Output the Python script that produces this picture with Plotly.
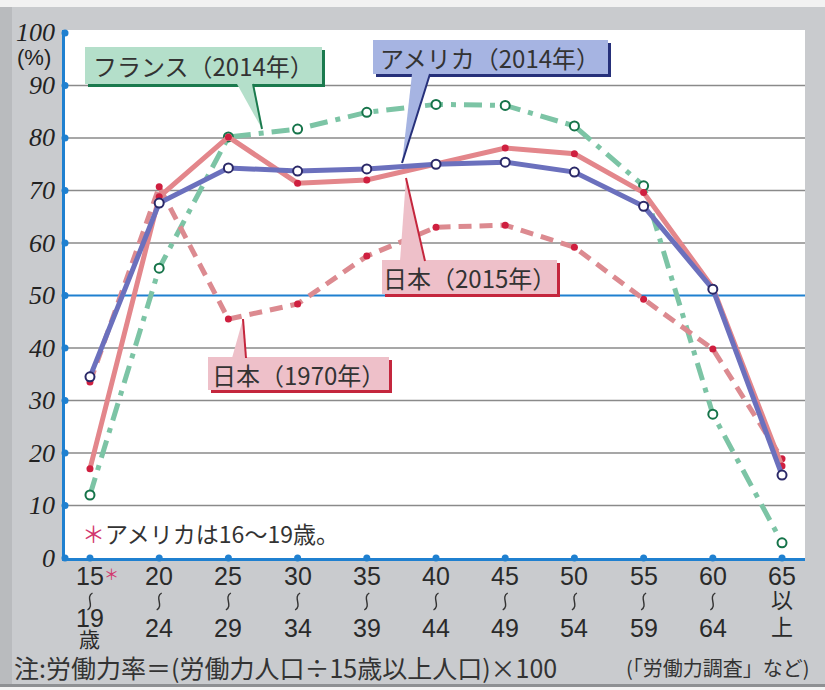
import plotly.graph_objects as go

# ---------------- data ----------------
categories = ["15〜19歳", "20〜24", "25〜29", "30〜34", "35〜39", "40〜44",
              "45〜49", "50〜54", "55〜59", "60〜64", "65以上"]
label_top = ["15", "20", "25", "30", "35", "40", "45", "50", "55", "60", "65"]
label_mid = ["〜", "〜", "〜", "〜", "〜", "〜", "〜", "〜", "〜", "〜", "以"]
label_bot = ["19", "24", "29", "34", "39", "44", "49", "54", "59", "64", "上"]
label_extra = ["歳", "", "", "", "", "", "", "", "", "", ""]

japan_2015 = [17.0, 68.8, 80.2, 71.4, 72.0, 75.0, 78.1, 77.0, 69.6, 51.5, 17.5]
japan_1970 = [33.5, 70.7, 45.5, 48.4, 57.5, 63.0, 63.4, 59.2, 49.3, 39.8, 18.9]
america_2014 = [34.5, 67.6, 74.3, 73.7, 74.1, 75.0, 75.4, 73.5, 67.0, 51.2, 15.8]
france_2014 = [12.0, 55.2, 80.2, 81.7, 84.9, 86.4, 86.2, 82.3, 70.9, 27.4, 2.9]

y_ticks = [0, 10, 20, 30, 40, 50, 60, 70, 80, 90, 100]
y_ticktext = ["0", "10", "20", "30", "40", "50", "60", "70", "80", "90", "100"]
grid_vals = [10, 20, 30, 40, 60, 70, 80, 90]
blue_line_val = 50

# ---------------- geometry helpers (pixel -> paper) ----------------
W, H = 825, 690
L, R, T, B = 65, 20, 30, 132
PW, PH = W - L - R, H - T - B


def px(x):
    return (x - L) / PW


def py(y):
    return (H - B - y) / PH


x_pos = list(range(len(categories)))
X_RANGE = [-0.361, 10.332]
Y_RANGE = [0, 100.57]
X_UNIT = PW / (X_RANGE[1] - X_RANGE[0])


def cat_px(i):
    return L + (i - X_RANGE[0]) * X_UNIT


BLUE = "#1f80d0"
CJK = "Noto Sans CJK JP"

fig = go.Figure()

fig.add_trace(go.Scatter(
    x=x_pos, y=france_2014, mode="lines+markers", name="フランス（2014年）",
    text=categories,
    line=dict(color="#7cc4a5", width=5, dash="18px,8px,5px,8px"),
    marker=dict(size=9, color="white", line=dict(color="#16744a", width=2)),
))
fig.add_trace(go.Scatter(
    x=x_pos, y=japan_1970, mode="lines+markers", name="日本（1970年）",
    text=categories,
    line=dict(color="#dc8a90", width=5, dash="13px,8px"),
    marker=dict(size=7, color="#cf1f3f"),
))
fig.add_trace(go.Scatter(
    x=x_pos, y=japan_2015, mode="lines+markers", name="日本（2015年）",
    text=categories,
    line=dict(color="#e3868b", width=5),
    marker=dict(size=7, color="#cf1f3f"),
))
fig.add_trace(go.Scatter(
    x=x_pos, y=america_2014, mode="lines+markers", name="アメリカ（2014年）",
    text=categories,
    line=dict(color="#6b70bd", width=5),
    marker=dict(size=9, color="white", line=dict(color="#2b2968", width=2)),
))

# axis dots
fig.add_trace(go.Scatter(
    x=x_pos, y=[0] * len(x_pos), mode="markers", cliponaxis=False,
    marker=dict(size=7, color=BLUE), hoverinfo="skip", showlegend=False))
fig.add_trace(go.Scatter(
    x=[X_RANGE[0]] * len(y_ticks), y=y_ticks, mode="markers", cliponaxis=False,
    marker=dict(size=7, color=BLUE), hoverinfo="skip", showlegend=False))

shapes = []
# frame decorations
shapes.append(dict(type="rect", xref="paper", yref="paper", x0=px(0), x1=px(W),
                   y0=py(0), y1=py(7), fillcolor="#f2f2f2", line_width=0, layer="below"))
shapes.append(dict(type="rect", xref="paper", yref="paper", x0=px(0), x1=px(12),
                   y0=py(7), y1=py(686), fillcolor="#b9bbbe", line_width=0, layer="below"))
shapes.append(dict(type="rect", xref="paper", yref="paper", x0=px(0), x1=px(W),
                   y0=py(684), y1=py(687), fillcolor="#8e9093", line_width=0, layer="below"))
shapes.append(dict(type="rect", xref="paper", yref="paper", x0=px(0), x1=px(W),
                   y0=py(687), y1=py(H), fillcolor="#f4f4f4", line_width=0, layer="below"))

# gridlines
for v in grid_vals:
    shapes.append(dict(type="line", xref="paper", yref="y", x0=0, x1=1, y0=v, y1=v,
                       line=dict(color="#8a8a8a", width=1.6), layer="below"))
shapes.append(dict(type="line", xref="paper", yref="y", x0=0, x1=1,
                   y0=blue_line_val, y1=blue_line_val,
                   line=dict(color=BLUE, width=2), layer="below"))


def callout(box, pointer, light, dark):
    x0, y0, x1, y1 = box
    out = []
    out.append(dict(type="rect", xref="paper", yref="paper",
                    x0=px(x0 + 3), x1=px(x1), y0=py(y0 + 3), y1=py(y1),
                    fillcolor=dark, line_width=0, layer="above"))
    out.append(dict(type="rect", xref="paper", yref="paper",
                    x0=px(x0), x1=px(x1 - 3), y0=py(y0), y1=py(y1 - 3),
                    fillcolor=light, line_width=0, layer="above"))
    (ax, ay), (bx, by), (tx, ty) = pointer
    path = "M {} {} L {} {} L {} {} Z".format(px(ax), py(ay), px(bx), py(by), px(tx), py(ty))
    out.append(dict(type="path", xref="paper", yref="paper", path=path,
                    fillcolor=light, line_width=0, layer="above"))
    out.append(dict(type="line", xref="paper", yref="paper",
                    x0=px(bx), y0=py(by), x1=px(tx), y1=py(ty),
                    line=dict(color=dark, width=2), layer="above"))
    return out


shapes += callout((85, 47, 325, 87), ((237, 84), (253, 84), (262, 129)), "#b4dfca", "#1b7a4e")
shapes += callout((373, 40, 611, 77), ((412, 74), (430, 74), (402, 163)), "#a6b4e2", "#26307a")
shapes += callout((382, 260, 560, 297), ((400, 261), (425, 261), (406, 178)), "#eec0c9", "#c4263d")
shapes += callout((208, 357, 392, 393), ((232, 358), (246, 358), (243, 319)), "#eec0c9", "#c4263d")

annotations = []


def txt(text, x, y, size, family=CJK, xanchor="center", color="#2a2a2a", xref="paper",
        yref="paper", style="normal", **kw):
    annotations.append(dict(text=text, x=x, y=y, xref=xref, yref=yref,
                            xanchor=xanchor, yanchor="middle", showarrow=False,
                            font=dict(size=size, family=family, color=color, style=style),
                            **kw))


txt("フランス（2014年）", px(203), py(65), 24, color="#333333")
txt("アメリカ（2014年）", px(490), py(57), 24, color="#333333")
txt("日本（2015年）", px(469), py(277), 24, color="#333333")
txt("日本（1970年）", px(298), py(374), 24, color="#333333")

# y tick labels (italic serif)
for v, t in zip(y_ticks, y_ticktext):
    txt(t, px(57), v, 26, family="Liberation Serif, Times New Roman, serif",
        xanchor="right", color="#222222", yref="y", style="italic")
# (%) under 100
txt("(%)", px(34), py(57), 22, family="Liberation Sans", color="#222222")

# x labels
for i in range(len(categories)):
    txt(label_top[i], i, py(576), 25, family="Liberation Sans", xref="x")
    if label_mid[i] == "〜":
        # vertical wave dash drawn as a small curve
        c = cat_px(i)
        path = "M {} {} C {} {} {} {} {} {}".format(
            px(c + 2.5), py(593), px(c - 5), py(597), px(c + 5), py(606),
            px(c - 2.5), py(610))
        shapes.append(dict(type="path", xref="paper", yref="paper", path=path,
                           line=dict(color="#333333", width=1.4), layer="above"))
    else:
        txt(label_mid[i], i, py(598), 22, xref="x")
    if label_extra[i]:
        txt(label_bot[i], i, py(618), 25, family="Liberation Sans", xref="x")
        txt(label_extra[i], i, py(638), 21, xref="x")
    elif label_bot[i].isdigit():
        txt(label_bot[i], i, py(628), 25, family="Liberation Sans", xref="x")
    else:
        txt(label_bot[i], i, py(625), 22, xref="x")

# asterisk after 15
txt("＊", px(111), py(573), 15, color="#d2386e")

# notes
txt("<span style='color:#d2386e'>＊</span>アメリカは16〜19歳。", px(80), py(533), 23,
    xanchor="left", color="#333333")
txt("注:労働力率＝(労働力人口÷15歳以上人口)×100", px(12), py(667), 25,
    xanchor="left", color="#333333")
txt("(「労働力調査」など)", px(624), py(667), 20, xanchor="left", color="#333333")

fig.update_layout(
    width=W, height=H,
    margin=dict(l=L, r=R, t=T, b=B, pad=0),
    paper_bgcolor="#c9cbce",
    plot_bgcolor="white",
    showlegend=False,
    shapes=shapes,
    annotations=annotations,
    xaxis=dict(range=X_RANGE, showgrid=False, zeroline=False, showticklabels=False,
               showline=True, linecolor=BLUE, linewidth=2.5, ticks="", fixedrange=True),
    yaxis=dict(range=Y_RANGE, showgrid=False, zeroline=False, showticklabels=False,
               showline=True, linecolor=BLUE, linewidth=2.5, ticks="", fixedrange=True),
)

fig.write_html("out.html", config={"displayModeBar": False},
               post_script="document.body.style.margin='0';document.body.style.padding='0';")
